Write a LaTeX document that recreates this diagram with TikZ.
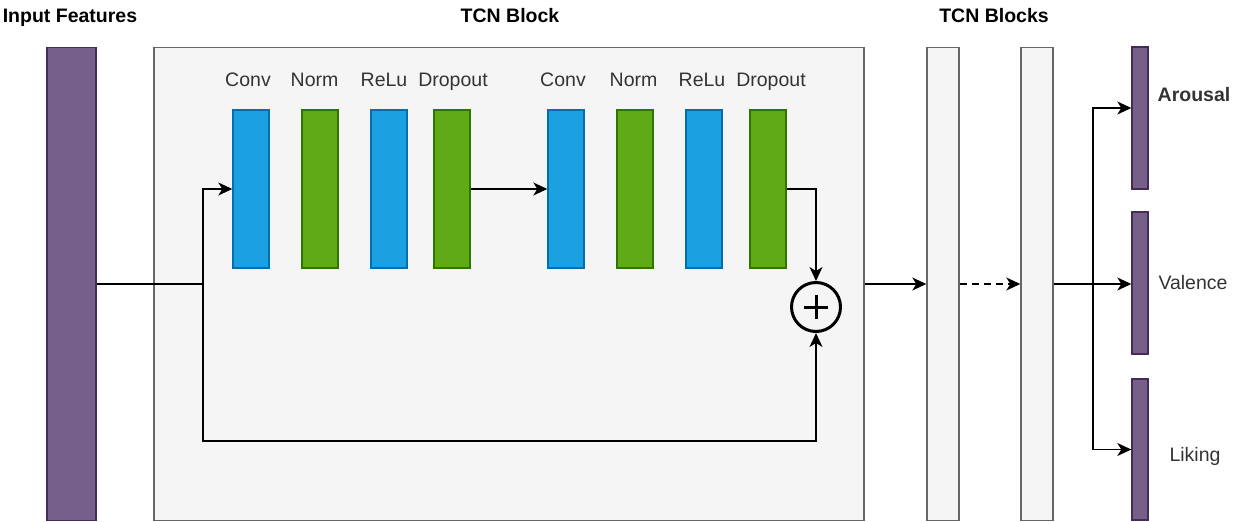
\documentclass[tikz,border=0pt]{standalone}
\usepackage{fontspec}
\setmainfont{Liberation Sans}
\usetikzlibrary{arrows.meta,positioning}
\definecolor{featfill}{HTML}{76608A}
\definecolor{featline}{HTML}{432D57}
\definecolor{convfill}{HTML}{1BA1E2}
\definecolor{convline}{HTML}{006EAF}
\definecolor{normfill}{HTML}{60A917}
\definecolor{normline}{HTML}{2D7600}
\definecolor{blkfill}{HTML}{F5F5F5}
\definecolor{blkline}{HTML}{666666}
\definecolor{txtgray}{HTML}{333333}

\begin{document}
\begin{tikzpicture}[x=1pt, y=-1pt, line width=1.4pt, font=\fontsize{19.5}{23}\selectfont,
    box/.style={draw, inner sep=0pt, rectangle},
    feat/.style={box, fill=featfill, draw=featline, minimum width=#1},
    blk/.style={box, fill=blkfill, draw=blkline, minimum height=473pt},
    layerc/.style={box, fill=convfill, draw=convline, minimum width=36pt, minimum height=158pt},
    layern/.style={box, fill=normfill, draw=normline, minimum width=36pt, minimum height=158pt},
    lbl/.style={anchor=base, text=txtgray, inner sep=0pt},
    ttl/.style={anchor=base, inner sep=0pt, font=\fontsize{19.5}{23}\selectfont\bfseries},
    arr/.style={-{Stealth[length=14pt, width=13pt, inset=4pt]}}]
  \useasboundingbox (0,0) rectangle (1237,522);

  \node[blk, minimum width=710pt] (blk) at (509,284) {};
  \node[feat=49pt, minimum height=473pt] (in) at (71.5,284) {};
  \node[blk, minimum width=32pt] (b1) at (943,284) {};
  \node[blk, minimum width=32pt] (b2) at (1037,284) {};

  \node[layerc] (c1) at (251,189) {};
  \node[layern] (n1) at (320,189) {};
  \node[layerc] (r1) at (389,189) {};
  \node[layern] (d1) at (452,189) {};
  \node[layerc] (c2) at (566,189) {};
  \node[layern] (n2) at (635,189) {};
  \node[layerc] (r2) at (704,189) {};
  \node[layern] (d2) at (768,189) {};

  \node[lbl] at (248,86) {Conv};
  \node[lbl] at (314.5,86) {Norm};
  \node[lbl] at (384,86) {ReLu};
  \node[lbl] at (453,86) {Dropout};
  \node[lbl] at (563,86) {Conv};
  \node[lbl] at (633.5,86) {Norm};
  \node[lbl] at (702,86) {ReLu};
  \node[lbl] at (771,86) {Dropout};

  \node[circle, draw, line width=3pt, minimum size=49pt, inner sep=0pt] (sum) at (816,307) {};
  \draw[line width=3pt] ([xshift=-12pt]sum.center) -- ([xshift=12pt]sum.center)
                        ([yshift=-12pt]sum.center) -- ([yshift=12pt]sum.center);

  \node[feat=16pt, minimum height=142pt] (aro) at (1140,118) {};
  \node[feat=16pt, minimum height=142pt] (val) at (1140,283) {};
  \node[feat=16pt, minimum height=141pt] (lik) at (1140,449.5) {};

  \node[ttl] at (70,23) {Input Features};
  \node[ttl] at (510,23) {TCN Block};
  \node[ttl] at (994,23) {TCN Blocks};
  \node[ttl, text=txtgray] at (1194,101) {Arousal};
  \node[lbl] at (1193,289) {Valence};
  \node[lbl] at (1195,461) {Liking};

  \coordinate (sp) at (203,284);
  \coordinate (low) at (816,441);
  \coordinate (br) at (1093,284);

  \draw (in) -- (sp);
  \draw[arr] (sp) |- (c1);
  \draw[arr] (sp) |- (low) -- (sum);
  \draw[arr] (d1) -- (c2);
  \draw[arr] (d2) -| (sum);
  \draw[arr] (blk) -- (b1);
  \draw[arr, dash pattern=on 7pt off 5pt] (b1) -- (b2);
  \draw (b2) -- (br);
  \draw[arr] (br) |- ([yshift=10pt]aro.west);
  \draw[arr] (br) -- (val.west |- br);
  \draw[arr] (br) |- (lik);
\end{tikzpicture}
\end{document}
